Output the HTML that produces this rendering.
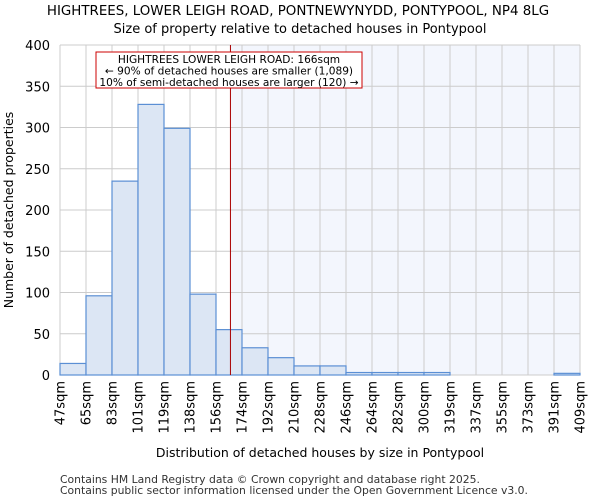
<!DOCTYPE html>
<html><head><meta charset="utf-8"><style>
body{margin:0;background:#fff;font-family:"DejaVu Sans","Liberation Sans",sans-serif;}
</style></head><body>
<svg id="chart" width="600" height="500" xmlns="http://www.w3.org/2000/svg" font-family="DejaVu Sans, Liberation Sans, sans-serif">
<text x="298" y="15" text-anchor="middle" font-size="13.4">HIGHTREES, LOWER LEIGH ROAD, PONTNEWYNYDD, PONTYPOOL, NP4 8LG</text>
<text x="300" y="33" text-anchor="middle" font-size="13">Size of property relative to detached houses in Pontypool</text>
<g id="plot"></g>
<text x="320" y="457" text-anchor="middle" font-size="12.5">Distribution of detached houses by size in Pontypool</text>
<text transform="translate(13,210) rotate(-90)" text-anchor="middle" font-size="12.5">Number of detached properties</text>
<text x="60" y="483" font-size="10.8" fill="#333">Contains HM Land Registry data © Crown copyright and database right 2025.</text>
<text x="60" y="494" font-size="10.8" fill="#333">Contains public sector information licensed under the Open Government Licence v3.0.</text>
</svg>
<script>
const binLabels=["47sqm","65sqm","83sqm","101sqm","119sqm","138sqm","156sqm","174sqm","192sqm","210sqm","228sqm","246sqm","264sqm","282sqm","300sqm","319sqm","337sqm","355sqm","373sqm","391sqm","409sqm"];
const binEdges=[47,65,83,101,119,138,156,174,192,210,228,246,264,282,300,319,337,355,373,391,409];
const counts=[14,96,235,328,299,98,55,33,21,11,11,3,3,3,3,0,0,0,0,2];
const yTicks=[0,50,100,150,200,250,300,350,400];
const markerValue=166;
const NS="http://www.w3.org/2000/svg";
const X0=60,X1=580,Y0=375,Y1=45,YMAX=400;
const g=document.getElementById('plot');
const nb=counts.length;
function xi(i){return X0+(X1-X0)*i/nb;}
function xv(v){let i=0;while(i<nb-1&&v>binEdges[i+1])i++;return xi(i)+(v-binEdges[i])/(binEdges[i+1]-binEdges[i])*(X1-X0)/nb;}
function y(v){return Y0-(Y0-Y1)*v/YMAX;}
function el(t,a){const e=document.createElementNS(NS,t);for(const k in a)e.setAttribute(k,a[k]);g.appendChild(e);return e;}
const mx=xv(markerValue);
let r=el('rect',{x:mx,y:Y1,width:X1-mx,height:Y0-Y1,fill:'#f3f6fd'});


yTicks.forEach(t=>{
 const l=el('line',{x1:X0,x2:X1,y1:y(t),y2:y(t),stroke:'#cccccc'});
 
 
 const tx=el('text',{x:X0-10,y:y(t)+5,'text-anchor':'end','font-size':'13'});
 tx.textContent=t;
 
 
});
binLabels.forEach((lab,i)=>{
 const x=xi(i);
 const l=el('line',{x1:x,x2:x,y1:Y1,y2:Y0,stroke:'#cccccc'});
 
 
 const tx=el('text',{transform:`translate(${x+4.5},${Y0+6}) rotate(-90)`,'text-anchor':'end','font-size':'13'});
 tx.textContent=lab;
 
 
});
counts.forEach((c,i)=>{
 if(c<=0)return;
 const b=el('rect',{x:xi(i),y:y(c),width:xi(i+1)-xi(i),height:Y0-y(c),fill:'#dce6f4',stroke:'#5b8fd4','stroke-width':1.2});
 
 
});
const ml=el('line',{x1:mx,x2:mx,y1:Y1,y2:Y0,stroke:'#aa0000','stroke-width':1});


const box=el('rect',{x:96,y:52,width:266,height:36,fill:'#fff',stroke:'#cc0000','stroke-width':1});


["HIGHTREES LOWER LEIGH ROAD: 166sqm","← 90% of detached houses are smaller (1,089)","10% of semi-detached houses are larger (120) →"].forEach((s,k)=>{
 const t=el('text',{x:229,y:63+k*11.5,'text-anchor':'middle','font-size':'10.6'});
 t.textContent=s;
 
 
});
</script>
</body></html>
